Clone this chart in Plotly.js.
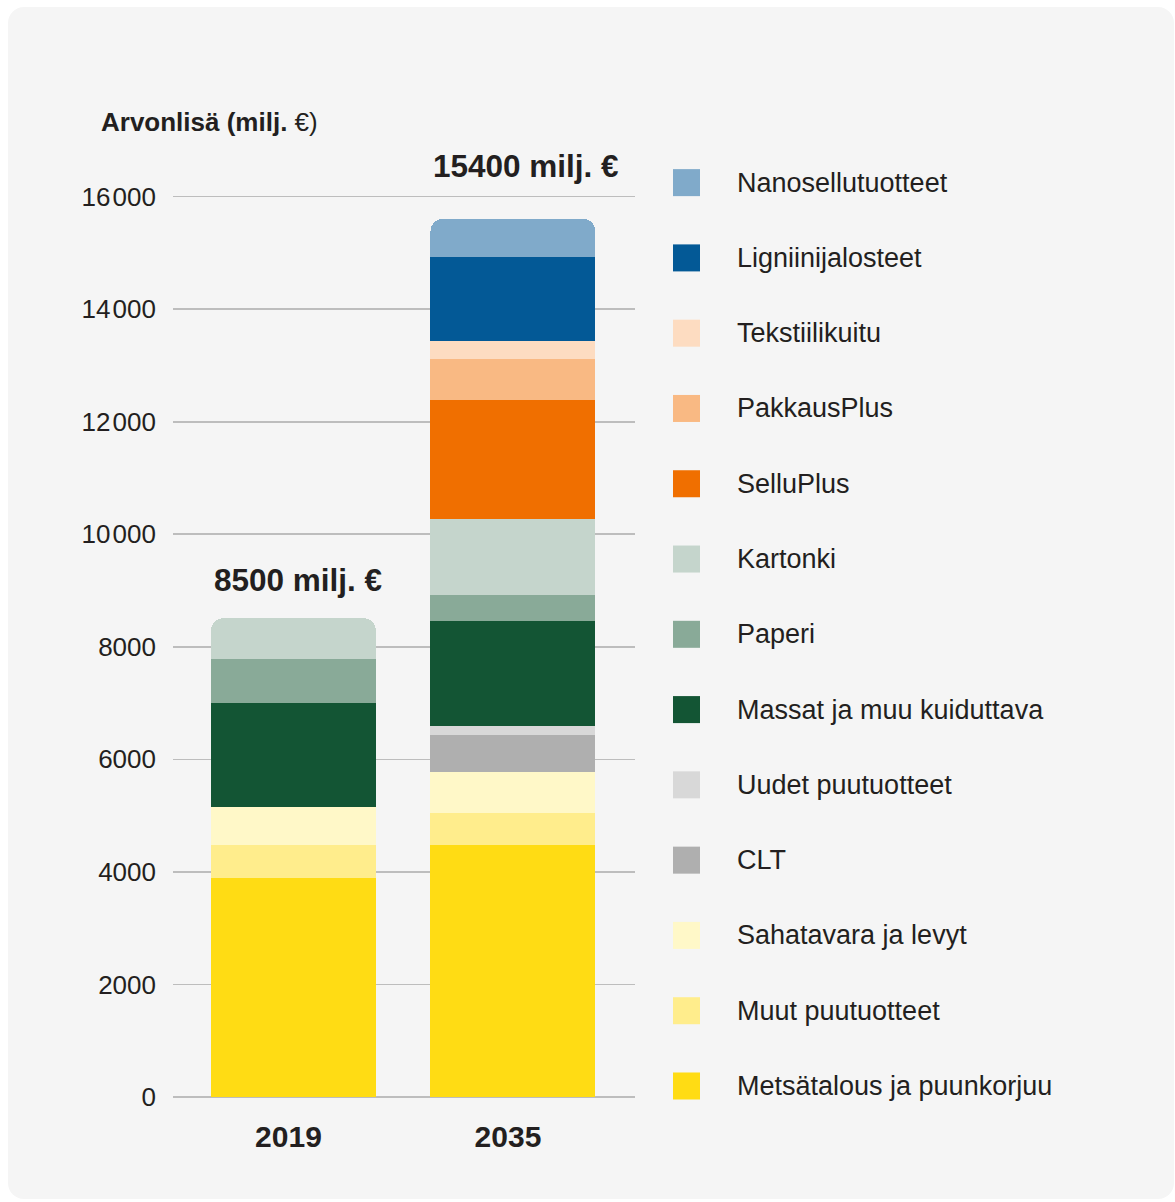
<!DOCTYPE html>
<html><head><meta charset="utf-8">
<script src="https://cdn.plot.ly/plotly-3.0.1.min.js"></script>
<style>
html,body{margin:0;padding:0;background:#ffffff;}
#card{position:absolute;left:8px;top:7px;width:1166px;height:1192px;background:#f5f5f5;border-radius:16px;}
#chart{position:absolute;left:0;top:0;width:1175px;height:1202px;}
</style></head><body>
<div id="card"></div><div id="chart"></div>
<script>
// ---- DATA ----
const years = ['2019', '2035'];
const totalLabels = ['8500 milj. €', '15400 milj. €'];
const yTickVals = [0, 2000, 4000, 6000, 8000, 10000, 12000, 14000, 16000];
const yTickText = ['0', '2000', '4000', '6000', '8000', '10\u200A000', '12\u200A000', '14\u200A000', '16\u200A000'];

// series listed bottom of stack -> top of stack
const seriesNames = [
  'Metsätalous ja puunkorjuu', 'Muut puutuotteet', 'Sahatavara ja levyt', 'CLT',
  'Uudet puutuotteet', 'Massat ja muu kuiduttava', 'Paperi', 'Kartonki',
  'SelluPlus', 'PakkausPlus', 'Tekstiilikuitu', 'Ligniinijalosteet', 'Nanosellutuotteet'
];
const metsatalous = [3900, 4470];
const muutPuutuotteet = [580, 570];
const sahatavara = [670, 730];
const clt = [null, 660];
const uudetPuutuotteet = [null, 170];
const massat = [1850, 1860];
const paperi = [780, 460];
const kartonki = [730, 1350];
const selluPlus = [null, 2110];
const pakkausPlus = [null, 730];
const tekstiilikuitu = [null, 320];
const ligniini = [null, 1500];
const nanosellu = [null, 680];
const seriesValues = [metsatalous, muutPuutuotteet, sahatavara, clt, uudetPuutuotteet,
  massat, paperi, kartonki, selluPlus, pakkausPlus, tekstiilikuitu, ligniini, nanosellu];

// ---- STYLE ----
const seriesColors = ['#FFDC14', '#FFED8C', '#FFF8C8', '#AFAFAF', '#D8D8D8', '#135534',
  '#89AA98', '#C5D5CC', '#F06F00', '#F9B983', '#FDDCC1', '#035996', '#80AACA'];
const FONT = '"Liberation Sans", Arial, Helvetica, sans-serif';
const TXT = '#231f20';
const W = 1175, H = 1202;
const yMax = 16100;
const pxPer = 900 / 16000;             // 16000 units over 900 px (y=1097 -> y=197)
const plotL = 173, plotR = 635, plotB = 1097;
const plotT = plotB - yMax * pxPer;
const barWidth = 0.752;
const totalShift = [38, 53];

const px = x => (x - plotL) / (plotR - plotL);
const py = y => (plotB - y) / (plotB - plotT);

const traces = seriesNames.map((n, i) => ({
  type: 'bar', name: n, x: years, y: seriesValues[i], width: barWidth,
  marker: {color: seriesColors[i], line: {width: 0}},
  showlegend: false, hoverinfo: 'skip'
}));

const annotations = [];
const shapes = [];
// totals above bars
years.forEach((yr, i) => {
  const total = seriesValues.reduce((s, arr) => s + (arr[i] || 0), 0);
  annotations.push({
    x: i - barWidth / 2, y: total, xref: 'x', yref: 'y', xanchor: 'left', yanchor: 'middle',
    xshift: 1, yshift: totalShift[i], showarrow: false,
    text: '<b>' + totalLabels[i] + '</b>', font: {family: FONT, size: 31.5, color: TXT}
  });
});
// axis title
annotations.push({
  x: px(99), y: py(122), xref: 'paper', yref: 'paper', xanchor: 'left', yanchor: 'middle',
  showarrow: false, text: '<b>Arvonlisä (milj.</b> €)', font: {family: FONT, size: 26, color: TXT}
});
// manual legend (top -> bottom = reverse of stack)
const legendOrder = seriesNames.map((_, i) => i).reverse();
legendOrder.forEach((si, row) => {
  const cy = 183 + row * 75.25;
  shapes.push({
    type: 'rect', xref: 'paper', yref: 'paper',
    x0: px(673), x1: px(700), y0: py(cy + 13.5), y1: py(cy - 13.5),
    fillcolor: seriesColors[si], line: {width: 0}
  });
  annotations.push({
    x: px(735), y: py(cy), xref: 'paper', yref: 'paper', xanchor: 'left', yanchor: 'middle',
    showarrow: false, text: seriesNames[si], font: {family: FONT, size: 27, color: TXT}
  });
});

const layout = {
  width: W, height: H,
  margin: {l: plotL, r: W - plotR, t: plotT, b: H - plotB, pad: 0},
  paper_bgcolor: 'rgba(0,0,0,0)', plot_bgcolor: 'rgba(0,0,0,0)',
  barmode: 'stack', barcornerradius: 13,
  showlegend: false,
  font: {family: FONT, color: TXT},
  xaxis: {
    type: 'category', range: [-0.549, 1.556], showgrid: false, zeroline: false,
    showline: false, ticks: '', ticklabelstandoff: 19, ticklabelshift: -5,
    tickfont: {family: FONT, size: 30, color: TXT, weight: 'bold'}, fixedrange: true
  },
  yaxis: {
    range: [0, yMax], tickvals: yTickVals, ticktext: yTickText,
    showgrid: true, gridcolor: '#bdbdbd', gridwidth: 1.6,
    zeroline: true, zerolinecolor: '#bdbdbd', zerolinewidth: 1.6,
    showline: false, ticks: '', ticklabelstandoff: 16,
    tickfont: {family: FONT, size: 26, color: TXT}, fixedrange: true
  },
  annotations: annotations, shapes: shapes
};

Plotly.newPlot('chart', traces, layout, {staticPlot: true, displayModeBar: false});
</script>
</body></html>
